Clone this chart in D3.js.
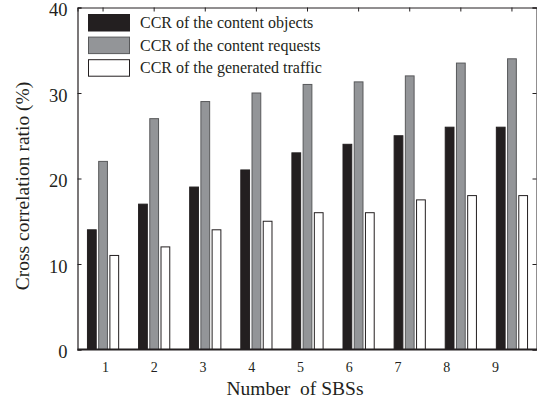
<!DOCTYPE html>
<html>
<head>
<meta charset="utf-8">
<script src="https://cdn.jsdelivr.net/npm/d3@7/dist/d3.min.js"></script>
<style>
  html, body { margin: 0; padding: 0; background: #fff; }
  svg text { font-family: "Liberation Serif", "Times New Roman", Times, serif !important; fill: #231f20; }
</style>
</head>
<body>
<svg id="chart" width="537" height="405" font-family="Liberation Serif, serif"></svg>
<script>
// Number of SBSs on the x axis
const sbsCounts = ["1", "2", "3", "4", "5", "6", "7", "8", "9"];

// Cross correlation ratio (%) for each number of SBSs
const ccrObjects  = [14, 17, 19, 21, 23, 24, 25, 26, 26];
const ccrRequests = [22, 27, 29, 30, 31, 31.3, 32, 33.5, 34];
const ccrTraffic  = [11, 12, 14, 15, 16, 16, 17.5, 18, 18];

const seriesNames = [
  "CCR of the content objects",
  "CCR of the content requests",
  "CCR of the generated traffic"
];
const seriesFill   = ["#231f20", "#939598", "#ffffff"];
const seriesStroke = ["#231f20", "#58595b", "#231f20"];

const yTicks = [0, 10, 20, 30, 40];

const svg = d3.select("#chart");
const plot = { left: 77.5, right: 537.5, top: 7.5, bottom: 349.5 };
const ink = "#231f20";
const serif = "Liberation Serif, Times New Roman, serif";

const x = d3.scaleBand()
  .domain(sbsCounts)
  .range([plot.left, plot.right])
  .paddingInner(0.37)
  .paddingOuter(0.185);

const xSub = d3.scaleBand()
  .domain(d3.range(seriesNames.length))
  .range([0, x.bandwidth()])
  .paddingInner(0.13);

// Tick labels of the number axis
const xLabel = d3.scaleLinear()
  .domain([1, 9])
  .range([105, 495]);

const y = d3.scaleLinear()
  .domain([0, 40])
  .range([plot.bottom, plot.top]);

const series = [ccrObjects, ccrRequests, ccrTraffic];

// Bars
const groups = svg.append("g")
  .selectAll("g")
  .data(sbsCounts)
  .join("g")
  .attr("transform", d => `translate(${x(d)},0)`);

groups.selectAll("rect")
  .data((d, i) => series.map((s, k) => ({ k, v: s[i] })))
  .join("rect")
  .attr("x", d => xSub(d.k) + 0.5)
  .attr("y", d => y(d.v))
  .attr("width", xSub.bandwidth() - 1)
  .attr("height", d => y(0) - y(d.v))
  .attr("fill", d => seriesFill[d.k])
  .attr("stroke", d => seriesStroke[d.k])
  .attr("stroke-width", 1);

// Frame axes: left, right, top
const leftAxis = d3.axisLeft(y).tickValues(yTicks).tickSize(-4).tickPadding(10)
  .tickFormat(d3.format("d"));
svg.append("g")
  .attr("transform", `translate(${plot.left},0)`)
  .call(leftAxis)
  .attr("font-family", serif)
  .call(g => g.select(".domain").attr("stroke", ink).attr("stroke-width", 1.2))
  .call(g => g.selectAll(".tick line").attr("stroke", ink))
  .call(g => g.selectAll(".tick text")
    .attr("font-size", 18.5)
    .attr("dy", "0.45em")
    .attr("fill", ink));

svg.append("g")
  .attr("transform", `translate(${plot.right - 1},0)`)
  .call(d3.axisRight(y).tickValues(yTicks).tickSize(-4).tickFormat(""))
  .call(g => g.select(".domain").attr("stroke", ink))
  .call(g => g.selectAll(".tick line").attr("stroke", ink));

svg.append("g")
  .attr("transform", `translate(0,${plot.top})`)
  .call(d3.axisTop(x).tickSize(-4).tickFormat(""))
  .call(g => g.select(".domain").attr("stroke", ink))
  .call(g => g.selectAll(".tick line").attr("stroke", ink));

// Bottom axis line
svg.append("line")
  .attr("x1", plot.left).attr("x2", plot.right)
  .attr("y1", y(0)).attr("y2", y(0))
  .attr("stroke", ink).attr("stroke-width", 2);

// Number axis labels
svg.append("g")
  .attr("transform", `translate(0,${plot.bottom})`)
  .call(d3.axisBottom(xLabel).ticks(9).tickSize(0).tickPadding(13).tickFormat(d3.format("d")))
  .attr("font-family", serif)
  .call(g => g.select(".domain").remove())
  .call(g => g.selectAll(".tick text")
    .attr("font-size", 14)
    .attr("fill", ink));

// Axis titles
svg.append("text")
  .attr("x", 295).attr("y", 395)
  .attr("text-anchor", "middle")
  .attr("font-size", 19.5)
  .text("Number\u00a0\u00a0of SBSs");

svg.append("text")
  .attr("transform", "translate(29,186) rotate(-90)")
  .attr("text-anchor", "middle")
  .attr("font-size", 19.5)
  .text("Cross correlation ratio (%)");

// Legend
const legend = svg.append("g").attr("transform", "translate(88,14)");
const item = legend.selectAll("g")
  .data(seriesNames)
  .join("g")
  .attr("transform", (d, i) => `translate(0,${i * 22.6})`);

item.append("rect")
  .attr("x", 0.5).attr("y", 0.5)
  .attr("width", 41).attr("height", 16.5)
  .attr("fill", (d, i) => seriesFill[i])
  .attr("stroke", (d, i) => seriesStroke[i]);

item.append("text")
  .attr("x", 52).attr("y", 14)
  .attr("font-size", 16)
  .text(d => d);
</script>
</body>
</html>
